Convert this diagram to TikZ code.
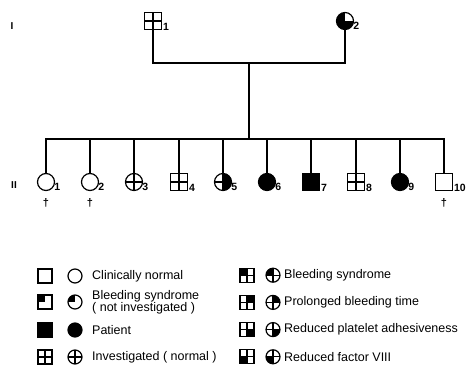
\documentclass[tikz,border=0pt]{standalone}
\usepackage{fontspec}
\setmainfont{Liberation Sans}
\usetikzlibrary{positioning}

\tikzset{
  male/.style={draw, line width=1.2pt, minimum size=17pt, inner sep=0pt},
  female/.style={draw, circle, line width=1.2pt, minimum size=17pt, inner sep=0pt},
  key/.style={minimum size=14pt},
  quad/.style={path picture={\foreach \c in {#1}
      {\fill (path picture bounding box.center) rectangle (path picture bounding box.\c);}}},
  grid/.style={path picture={\foreach \c in {#1}
      {\fill (path picture bounding box.center) rectangle (path picture bounding box.\c);}
      \draw[line width=1.1pt] (path picture bounding box.north) -- (path picture bounding box.south)
        (path picture bounding box.west) -- (path picture bounding box.east);}},
  grid/.default=center,
  num/.style={font=\bfseries\fontsize{10.5}{10.5}\selectfont, inner sep=0.8pt, anchor=west},
  dead/.style={label={[font=\bfseries\fontsize{11}{11}\selectfont, label distance=4pt]below:\textdagger}},
  link/.style={line width=1.2pt},
  gen/.style={font=\bfseries\fontsize{10}{10}\selectfont},
  txt/.style={anchor=west, inner sep=0pt, font=\fontsize{12.5}{12}\selectfont, align=left}
}

\begin{document}
\begin{tikzpicture}[x=1pt, y=-1pt]
  \useasboundingbox (0,0) rectangle (466,367);

  % generations
  \node[gen] (gI) at (12,26) {I};
  \node[gen] (gII) at (14,185) {II};

  % parents
  \node[male, grid, label={[num]-35:1}] (p1) at (153,21) {};
  \node[female, quad={north west,south west,south east}, label={[num]-35:2}] (p2) at (345,21) {};

  \coordinate (mar) at (249,63);
  \coordinate (sib) at (249,139);
  \draw[link] (p1.south) |- (mar) -| (p2.south);
  \draw[link] (mar) -- (sib);

  % children
  \node[female, dead, label={[num]-35:1}] (c1) at (46,182) {};
  \node[female, dead, label={[num]-35:2}] (c2) at (90,182) {};
  \node[female, grid, label={[num]-35:3}] (c3) at (134,182) {};
  \node[male, grid, label={[num]-35:4}] (c4) at (179,182) {};
  \node[female, grid={north east,south east}, label={[num]-35:5}] (c5) at (223,182) {};
  \node[female, fill=black, label={[num]-35:6}] (c6) at (267,182) {};
  \node[male, fill=black, label={[num]-35:7}] (c7) at (311,182) {};
  \node[male, grid, label={[num]-35:8}] (c8) at (356,182) {};
  \node[female, fill=black, label={[num]-35:9}] (c9) at (400,182) {};
  \node[male, dead, label={[num]-35:10}] (c10) at (444,182) {};

  \foreach \i in {1,...,10}
    \draw[link] (c\i.north) |- (sib);

  % key, left column
  \node[male, key] (ka1) at (45,276) {};
  \node[female, key] (kb1) at (75,276) {};
  \node[txt] (kt1) at (92,276) {Clinically normal};
  \node[male, key, quad=north west] (ka2) at (45,302) {};
  \node[female, key, quad=north west] (kb2) at (75,302) {};
  \node[txt] (kt2) at (92,302) {Bleeding syndrome\\( not investigated )};
  \node[male, key, fill=black] (ka3) at (45,330) {};
  \node[female, key, fill=black] (kb3) at (75,330) {};
  \node[txt] (kt3) at (92,330) {Patient};
  \node[male, key, grid] (ka4) at (45,357) {};
  \node[female, key, grid] (kb4) at (75,357) {};
  \node[txt] (kt4) at (92,357) {Investigated ( normal )};

  % key, right column
  \foreach \q/\t [count=\r] in {north west/Bleeding syndrome,
      north east/Prolonged bleeding time,
      south east/Reduced platelet adhesiveness,
      south west/Reduced factor VIII}
  {
    \pgfmathsetmacro{\yy}{248+27.2*\r}
    \node[male, key, grid=\q] (kc\r) at (247,\yy) {};
    \node[female, key, grid=\q] (kd\r) at (273,\yy) {};
    \node[txt] (ku\r) at (284,\yy) {\t};
  }
\end{tikzpicture}
\end{document}
